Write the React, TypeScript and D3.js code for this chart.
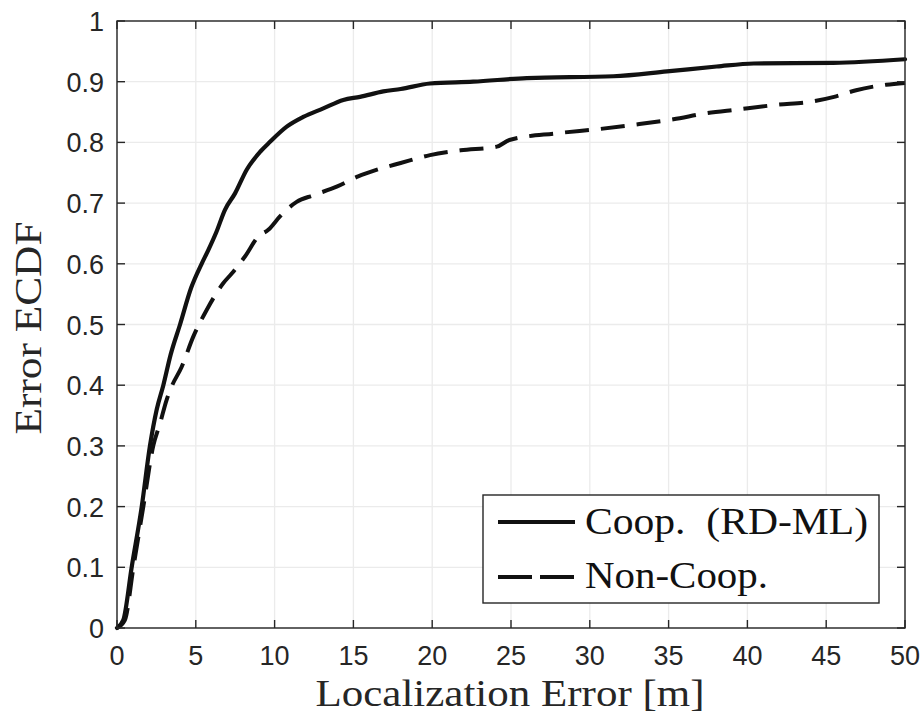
import React from "react";
import * as d3 from "d3";

const coopX = [0, 0.4, 0.93, 1.57, 2.09, 2.52, 2.94, 3.4, 4.0, 4.7, 5.37, 5.8, 6.3, 6.85, 7.49, 8.23, 9.1, 9.71, 10.77, 11.82, 13.09, 14.36, 15.42, 16.9, 18.0, 19.86, 22.6, 26.0, 31.5, 34.9, 38.05, 40.4, 45.45, 50];
const coopY = [0, 0.013, 0.1, 0.2, 0.3, 0.36, 0.4, 0.45, 0.5, 0.56, 0.6, 0.623, 0.652, 0.689, 0.716, 0.755, 0.785, 0.801, 0.826, 0.842, 0.856, 0.87, 0.875, 0.884, 0.888, 0.897, 0.9, 0.906, 0.909, 0.917, 0.925, 0.93, 0.931, 0.937];

const nonX = [0, 0.5, 1.04, 1.67, 2.3, 2.73, 3.15, 3.47, 4.1, 4.84, 5.69, 6.74, 7.28, 8.12, 8.97, 9.6, 10.34, 11.4, 12.46, 13.94, 15.3, 16.5, 18.0, 19.86, 21.8, 24.1, 24.9, 27.9, 30.6, 32.8, 35.3, 37.4, 39.3, 41.9, 44.0, 45.5, 46.9, 48.8, 50];
const nonY = [0, 0.013, 0.1, 0.2, 0.3, 0.337, 0.376, 0.398, 0.43, 0.48, 0.524, 0.568, 0.584, 0.612, 0.645, 0.656, 0.678, 0.702, 0.713, 0.727, 0.744, 0.755, 0.766, 0.779, 0.787, 0.793, 0.804, 0.815, 0.822, 0.829, 0.838, 0.848, 0.854, 0.862, 0.867, 0.875, 0.886, 0.895, 0.898];

const xTicks = [0, 5, 10, 15, 20, 25, 30, 35, 40, 45, 50];
const yTicks = [0, 0.1, 0.2, 0.3, 0.4, 0.5, 0.6, 0.7, 0.8, 0.9, 1];
const legendLabels = ["Coop.\u00A0 (RD-ML)", "Non-Coop."];
const xLabel = "Localization Error [m]";
const yLabel = "Error ECDF";

const W = 924, H = 720;
const L = 117, R = 905, T = 21, B = 628;

export default function App() {
  const x = d3.scaleLinear().domain([0, 50]).range([L, R]);
  const y = d3.scaleLinear().domain([0, 1]).range([B, T]);
  const line = d3.line<[number, number]>().x(d => x(d[0])).y(d => y(d[1])).curve(d3.curveMonotoneX);
  const coop = line(coopX.map((v, i) => [v, coopY[i]] as [number, number])) || "";
  const non = line(nonX.map((v, i) => [v, nonY[i]] as [number, number])) || "";
  const axisColor = "#262626";
  const tickLen = 8;
  const fmt = (v: number) => (v === 0 ? "0" : v === 1 ? "1" : String(+v.toFixed(1)));
  return (
    <svg width={W} height={H} style={{ position: "absolute", left: 0, top: 0, background: "#fff" }}>
      <rect x={0} y={0} width={W} height={H} fill="#fff" />
      {/* grid */}
      {xTicks.map(t => (
        <line key={"gx" + t} x1={x(t)} x2={x(t)} y1={T} y2={B} stroke="#ebebeb" strokeWidth={1.3} />
      ))}
      {yTicks.map(t => (
        <line key={"gy" + t} x1={L} x2={R} y1={y(t)} y2={y(t)} stroke="#ebebeb" strokeWidth={1.3} />
      ))}
      {/* curves */}
      <path d={non} fill="none" stroke="#111" strokeWidth={4} strokeDasharray="24,12" strokeLinejoin="round" />
      <path d={coop} fill="none" stroke="#111" strokeWidth={4.2} strokeLinejoin="round" strokeLinecap="round" />
      {/* box */}
      <rect x={L} y={T} width={R - L} height={B - T} fill="none" stroke={axisColor} strokeWidth={1.4} />
      {xTicks.map(t => (
        <g key={"tx" + t}>
          <line x1={x(t)} x2={x(t)} y1={B} y2={B - tickLen} stroke={axisColor} strokeWidth={1.4} />
          <line x1={x(t)} x2={x(t)} y1={T} y2={T + tickLen} stroke={axisColor} strokeWidth={1.4} />
          <text x={x(t)} y={665} textAnchor="middle" fontFamily="Liberation Sans, Arial, sans-serif" fontSize={27} fill={axisColor}>{t}</text>
        </g>
      ))}
      {yTicks.map(t => (
        <g key={"ty" + t}>
          <line x1={L} x2={L + tickLen} y1={y(t)} y2={y(t)} stroke={axisColor} strokeWidth={1.4} />
          <line x1={R} x2={R - tickLen} y1={y(t)} y2={y(t)} stroke={axisColor} strokeWidth={1.4} />
          <text x={104} y={y(t) + 10} textAnchor="end" fontFamily="Liberation Sans, Arial, sans-serif" fontSize={27} fill={axisColor}>{fmt(t)}</text>
        </g>
      ))}
      {/* axis labels */}
      <text x={510} y={706} textAnchor="middle" fontFamily="Liberation Serif, DejaVu Serif, serif" fontSize={38} fill={axisColor} textLength={389} lengthAdjust="spacingAndGlyphs">{xLabel}</text>
      <text transform={`translate(41,328) rotate(-90)`} textAnchor="middle" fontFamily="Liberation Serif, DejaVu Serif, serif" fontSize={38} fill={axisColor} textLength={213} lengthAdjust="spacingAndGlyphs">{yLabel}</text>
      {/* legend */}
      <rect x={483} y={495} width={396} height={108} fill="#fff" stroke={axisColor} strokeWidth={1.4} />
      <line x1={498} x2={575} y1={522} y2={522} stroke="#111" strokeWidth={4} />
      <line x1={498} x2={575} y1={577} y2={577} stroke="#111" strokeWidth={4} strokeDasharray="34,8" />
      <text x={585} y={534} fontFamily="Liberation Serif, DejaVu Serif, serif" fontSize={38} fill="#111" textLength={283} lengthAdjust="spacingAndGlyphs">{legendLabels[0]}</text>
      <text x={585} y={588} fontFamily="Liberation Serif, DejaVu Serif, serif" fontSize={38} fill="#111" textLength={183} lengthAdjust="spacingAndGlyphs">{legendLabels[1]}</text>
    </svg>
  );
}
